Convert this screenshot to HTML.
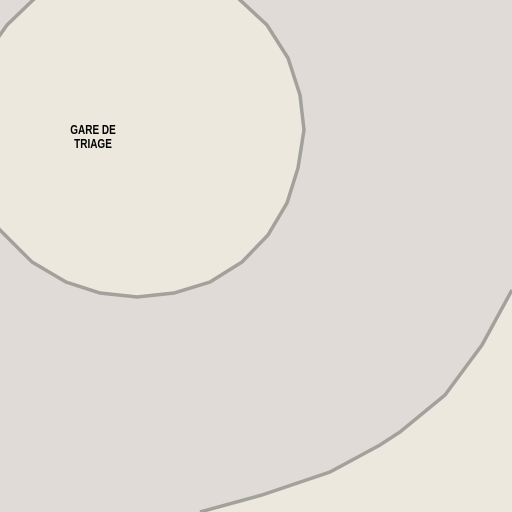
<!DOCTYPE html>
<html><head><meta charset="utf-8"><style>
html,body{margin:0;padding:0;width:512px;height:512px;overflow:hidden;background:#ede8dd}
svg{display:block}
</style></head><body>
<svg width="512" height="512" viewBox="0 0 512 512">
<rect width="512" height="512" fill="#ede8dd"/>
<path d="M0,0 L512,0 L512,290 L482,345 L445,395 L400,432 L380,445 L330,472 L262,495 L200,512 L0,512 Z" fill="#e0dbd6"/>
<polyline points="512,290 482,345 445,395 400,432 380,445 330,472 262,495 200,512" fill="none" stroke="#a3a19c" stroke-width="3.5"/>
<polygon points="-5,42 7,25 33,0 60,-25 215,-25 240,0 267,25 288,58 300,95 304,130 298,168 287,203 268,235 242,262 210,282 174,293 137,297 100,293 66,282 32,262 10,240 -5,225" fill="#ede8dd" stroke="#a3a19c" stroke-width="3.5"/>
<text font-family="Liberation Sans Narrow, Liberation Sans, sans-serif" font-size="12.5" font-weight="bold" fill="#000" text-anchor="middle" transform="translate(93,0) scale(0.8,1)" style="font-weight:600">
<tspan x="0" y="134">GARE DE</tspan><tspan x="0" y="148">TRIAGE</tspan></text>
</svg>
</body></html>
